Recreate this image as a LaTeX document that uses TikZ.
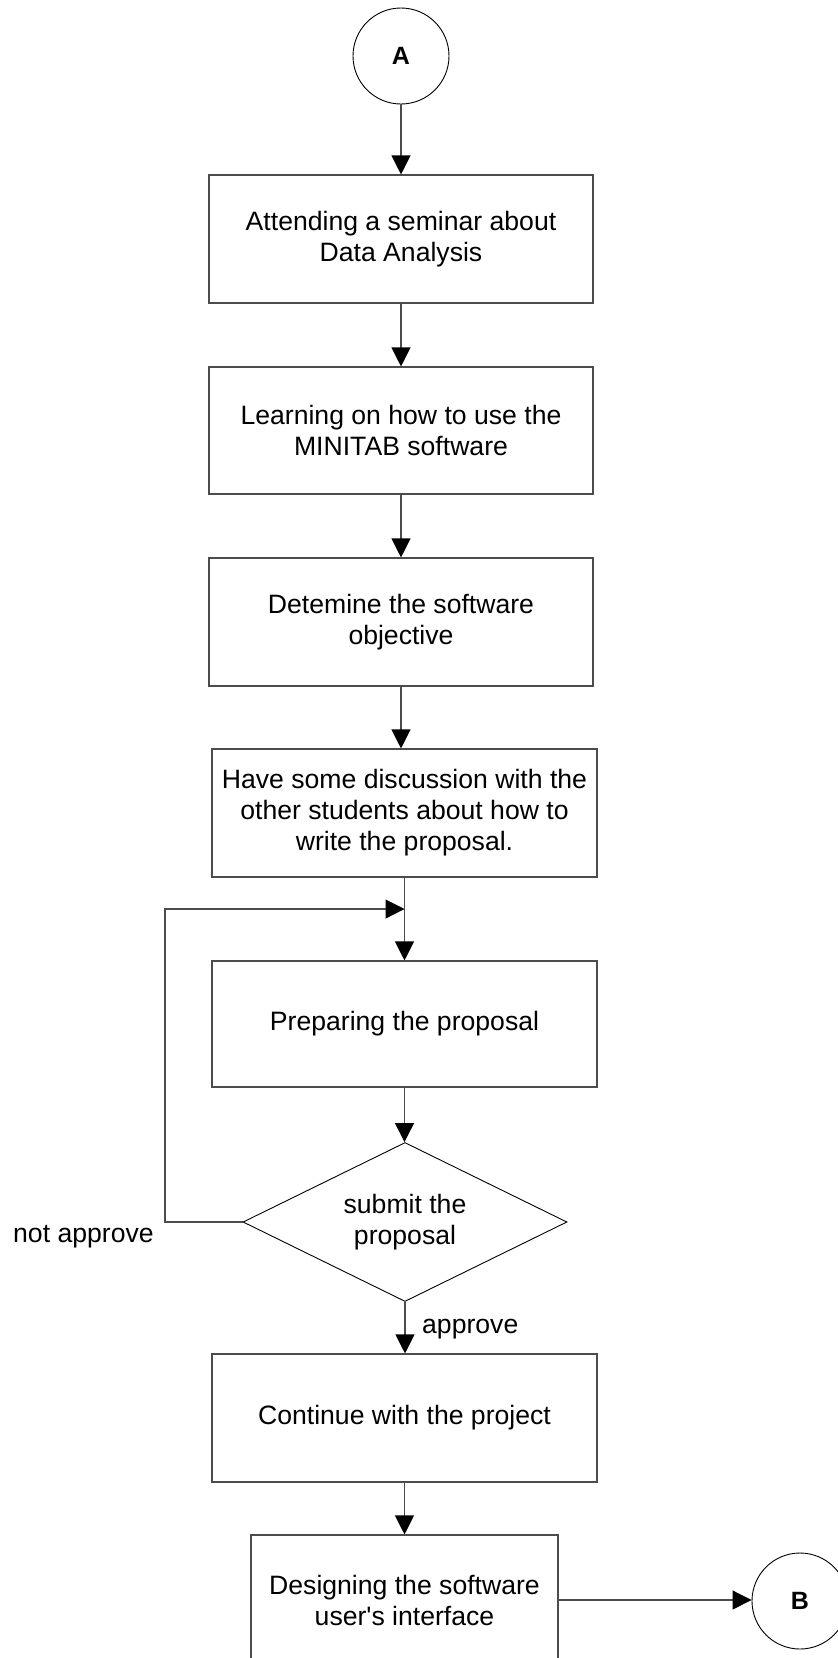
\documentclass[tikz,border=0pt]{standalone}
\usepackage{fontspec}
\setmainfont{Liberation Sans}
\usetikzlibrary{arrows.meta,shapes.geometric}
\begin{document}
\begin{tikzpicture}[x=1pt,y=-1pt,
  txt/.style={font=\fontsize{26.6}{31}\selectfont},
  box/.style={txt, draw=black!70, line width=1.1pt, minimum width=384pt, minimum height=128pt, align=center, inner sep=0pt},
  conn/.style={circle, draw=black, line width=0.9pt, minimum size=96pt, inner sep=0pt, font=\fontsize{25}{30}\selectfont\bfseries},
  decision/.style={txt, diamond, draw=black, line width=0.9pt, minimum width=324pt, minimum height=159pt, aspect=2, inner sep=0pt, align=center},
  arr/.style={draw=black!70, line width=1.1pt, -{Triangle[length=19pt,width=19pt,color=black]}},
  line/.style={draw=black!70, line width=1.1pt}
]
\clip (0,0) rectangle (838,1658);
\fill[white] (0,0) rectangle (838,1658);

\node[conn] (A) at (401,56) {A};
\node[box] (b1) at (401,239) {Attending a seminar about\\Data Analysis};
\node[box, minimum height=127pt] (b2) at (401,430.5) {Learning on how to use the\\MINITAB software};
\node[box] (b3) at (401,622) {Detemine the software\\objective};
\node[box, minimum width=385pt] (b4) at (404.5,813) {Have some discussion with the\\other students about how to\\write the proposal.};
\node[box, minimum width=385pt, minimum height=126pt] (b5) at (404.5,1024) {Preparing the proposal};
\node[decision] (dia) at (405,1222) {submit the\\proposal};
\node[box, minimum width=385pt] (b6) at (404.5,1418) {Continue with the project};
\node[box, minimum width=307pt, minimum height=130pt] (b7) at (404.5,1600) {Designing the software\\user\textquotesingle s interface};
\node[conn] (B) at (800,1601) {B};

\node[txt, anchor=base west, inner sep=0pt] (na) at (13,1242) {not approve};
\node[txt, anchor=base west, inner sep=0pt] (ap) at (422,1333) {approve};

\coordinate (j) at (404.5,909);
\coordinate (lp) at (165,1222);

\draw[arr] (A) -- (b1);
\draw[arr] (b1) -- (b2);
\draw[arr] (b2) -- (b3);
\draw[arr] (b3.south) -- (b3.south |- b4.north);
\draw[arr] (b4) -- (b5);
\draw[arr] (dia.west) -- (lp) |- (j);
\draw[arr] (b5.south) -- (b5.south |- dia.north);
\draw[arr] (dia.south) -- (dia.south |- b6.north);
\draw[arr] (b6) -- (b7);
\draw[arr] (b7.east) -- (b7.east -| B.west);
\end{tikzpicture}
\end{document}
